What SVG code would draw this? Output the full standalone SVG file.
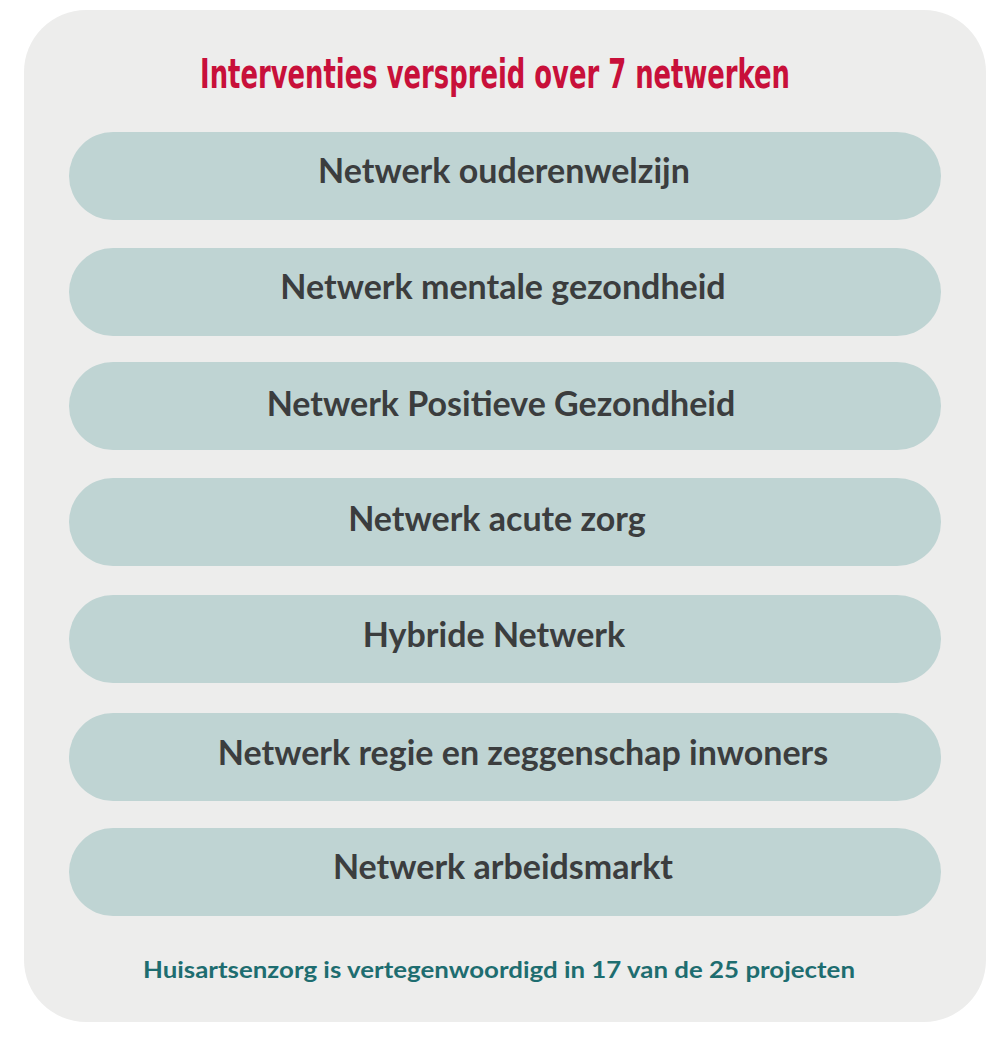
<svg xmlns="http://www.w3.org/2000/svg" width="1000" height="1041" viewBox="0 0 1000 1041">
<style>
.pill{fill:#bfd4d3}
.lbl{font-family:Lato,"Open Sans",sans-serif;font-weight:700;font-size:34px;fill:#3b3d3e;text-anchor:middle}
.title{font-family:"DejaVu Sans Condensed","DejaVu Sans",sans-serif;font-weight:700;font-size:40px;fill:#c8103a;text-anchor:middle}
.foot{font-family:Lato,"Open Sans",sans-serif;font-weight:700;font-size:22px;fill:#1e6d70;text-anchor:middle}
</style>
<rect width="1000" height="1041" fill="#ffffff"/>
<g id="card">
<rect x="24" y="10" width="962" height="1012" rx="62" ry="62" fill="#ededec"/>
</g>
<g id="title" transform="translate(495 88) scale(0.85 1)">
<text class="title" x="0" y="0" textLength="694" lengthAdjust="spacingAndGlyphs">Interventies verspreid over 7 netwerken</text>
</g>
<g id="n1"><rect class="pill" x="69" y="132" width="872" height="88" rx="44"/><text class="lbl" x="504" y="183">Netwerk ouderenwelzijn</text></g>
<g id="n2"><rect class="pill" x="69" y="248" width="872" height="88" rx="44"/><text class="lbl" x="503" y="299">Netwerk mentale gezondheid</text></g>
<g id="n3"><rect class="pill" x="69" y="362" width="872" height="88" rx="44"/><text class="lbl" x="501" y="416">Netwerk Positieve Gezondheid</text></g>
<g id="n4"><rect class="pill" x="69" y="478" width="872" height="88" rx="44"/><text class="lbl" x="497" y="531">Netwerk acute zorg</text></g>
<g id="n5"><rect class="pill" x="69" y="595" width="872" height="88" rx="44"/><text class="lbl" x="494" y="647">Hybride Netwerk</text></g>
<g id="n6"><rect class="pill" x="69" y="713" width="872" height="88" rx="44"/><text class="lbl" x="523" y="765">Netwerk regie en zeggenschap inwoners</text></g>
<g id="n7"><rect class="pill" x="69" y="828" width="872" height="88" rx="44"/><text class="lbl" x="503" y="879">Netwerk arbeidsmarkt</text></g>
<g id="connectors"/>
<g id="footer">
<text class="foot" x="499" y="978" textLength="712" lengthAdjust="spacingAndGlyphs">Huisartsenzorg is vertegenwoordigd in 17 van de 25 projecten</text>
</g>
</svg>
